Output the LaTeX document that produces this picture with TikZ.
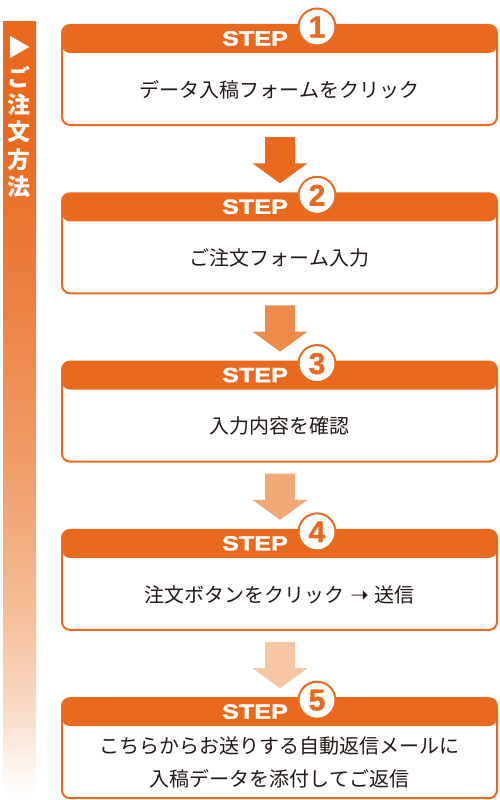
\documentclass[tikz,border=0pt]{standalone}
\usepackage{fontspec}
\newfontfamily\jpfont{Noto Sans CJK JP}
\newfontfamily\stepfont{Liberation Sans}[FakeBold=1.5]
\newfontfamily\numfont{Liberation Sans}[FakeBold=1.2]
\newfontfamily\symfont{DejaVu Sans}
\definecolor{org}{HTML}{E9691F}
\definecolor{txtc}{HTML}{231815}
\definecolor{arA}{HTML}{E9691F}
\definecolor{arB}{HTML}{EE8A4A}
\definecolor{arC}{HTML}{F3A878}
\definecolor{arD}{HTML}{F7C6A4}
\definecolor{sbA}{HTML}{F8D8C2}
\definecolor{sbB}{HTML}{F4BA93}
\definecolor{sbC}{HTML}{F09A66}
\definecolor{sbD}{HTML}{ED8142}
\pgfdeclareverticalshading{sidebarshade}{100bp}{color(0bp)=(white); color(25bp)=(white); color(31.1bp)=(sbA); color(37.6bp)=(sbB); color(47.3bp)=(sbC); color(57bp)=(sbD); color(68bp)=(org); color(75bp)=(org); color(100bp)=(org)}
\tikzset{
  stepbox/.style={draw=org, line width=2pt, fill=white, rounded corners=8pt,
    minimum width=435pt, minimum height=100pt, inner sep=0pt,
    path picture={\fill[org] (path picture bounding box.north west) rectangle ([yshift=-28pt]path picture bounding box.north east);}},
  steplabel/.style={text=white, font=\stepfont\bfseries\fontsize{20.5}{21}\selectfont, inner sep=0pt},
  numcirc/.style={circle, draw=org, line width=2pt, fill=white, minimum size=37pt, inner sep=0pt,
    text=org, font=\numfont\bfseries\fontsize{30}{30}\selectfont},
  bodytxt/.style={text=txtc, align=center, inner sep=0pt, font=\jpfont\fontsize{20}{33}\selectfont},
  sidetxt/.style={text=white, inner sep=0pt, font=\jpfont\bfseries\fontsize{23}{23}\selectfont},
}
\begin{document}
\begin{tikzpicture}[x=1pt,y=-1pt]
\useasboundingbox (0,0) rectangle (500,800);
% side bar
\shade[shading=sidebarshade] (3,22) rectangle (36,795);
\node[sidetxt, font=\jpfont\fontsize{24}{24}\selectfont] (tri) at (19.5,47) {▶};
\foreach \c [count=\i] in {ご,注,文,方,法}
  \node[sidetxt] (side\i) at (19.5,{77+27.5*(\i-1)}) {\c};
% boxes
\foreach \k in {1,...,5}{
  \pgfmathsetmacro{\t}{24+168.3*(\k-1)}
  \node[stepbox] (box\k) at (279.5,{\t+51}) {};
  \node[steplabel, anchor=base] (lbl\k) at (255,{\t+21.5}) {\scalebox{1.23}[1]{STEP}};
  \node[numcirc] (num\k) at (317,{\t+3}) {\k};
}
\node[bodytxt] (txt1) at ([yshift=-65.5pt]box1.north) {データ入稿フォームをクリック};
\node[bodytxt] (txt2) at ([yshift=-65.5pt]box2.north) {ご注文フォーム入力};
\node[bodytxt] (txt3) at ([yshift=-65.5pt]box3.north) {入力内容を確認};
\node[bodytxt] (txt4) at ([yshift=-65.5pt]box4.north) {注文ボタンをクリック\hspace{6pt}{\symfont\fontsize{22}{22}\selectfont ➝}\hspace{6pt}送信};
\node[bodytxt] (txt5) at ([yshift=-65.5pt]box5.north) {こちらからお送りする自動返信メールに\\入稿データを添付してご返信};
% arrows
\foreach \a/\b/\col in {1/2/arA,2/3/arB,3/4/arC,4/5/arD}{
  \fill[\col] ([xshift=-14.5pt,yshift=-11pt]box\a.south) -- ([xshift=15.5pt,yshift=-11pt]box\a.south)
    -- ([xshift=15.5pt,yshift=29pt]box\b.north) -- ([xshift=28pt,yshift=29pt]box\b.north)
    -- ([xshift=0.5pt,yshift=9pt]box\b.north) -- ([xshift=-27pt,yshift=29pt]box\b.north)
    -- ([xshift=-14.5pt,yshift=29pt]box\b.north) -- cycle;
}
\end{tikzpicture}
\end{document}
